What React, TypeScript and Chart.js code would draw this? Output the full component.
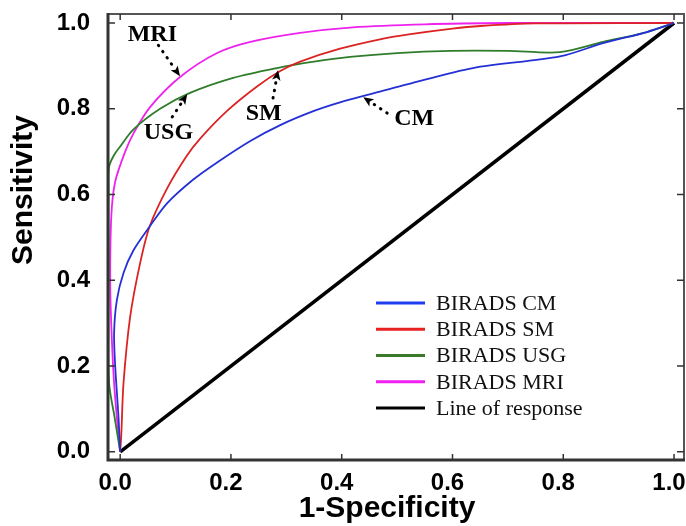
import React, { useEffect, useRef } from "react";
import { Chart, registerables } from "chart.js";

Chart.register(...registerables);

// ---------- data ----------
const seriesNames = ["BIRADS CM", "BIRADS SM", "BIRADS USG", "BIRADS MRI", "Line of response"];
const seriesColors = ["#2430d4", "#dc2323", "#2f7d2a", "#ee22ee", "#000000"];
const legendColors = ["#1e3cf0", "#e82020", "#3a7a2a", "#f020f0", "#000000"];

const cmX = [0, -0.003, -0.009, -0.011, -0.006, 0.006, 0.024, 0.053, 0.085, 0.132, 0.175, 0.235, 0.289, 0.35, 0.397, 0.469, 0.518, 0.637, 0.794, 0.872, 0.951, 1];
const cmY = [0, 0.08, 0.2, 0.277, 0.354, 0.417, 0.47, 0.525, 0.58, 0.635, 0.675, 0.725, 0.762, 0.795, 0.815, 0.84, 0.857, 0.895, 0.922, 0.953, 0.979, 1];

const smX = [0, 0.002, 0.006, 0.018, 0.036, 0.053, 0.085, 0.12, 0.144, 0.193, 0.247, 0.289, 0.325, 0.397, 0.469, 0.518, 0.6, 0.65, 0.75, 1];
const smY = [0, 0.04, 0.16, 0.315, 0.44, 0.525, 0.615, 0.69, 0.73, 0.795, 0.852, 0.888, 0.91, 0.94, 0.962, 0.973, 0.987, 0.993, 0.999, 1];

const usgX = [0, -0.01, -0.02, -0.021, -0.021, -0.021, -0.02, -0.012, 0, 0.024, 0.072, 0.126, 0.204, 0.283, 0.35, 0.415, 0.5, 0.596, 0.7, 0.794, 0.872, 0.951, 1];
const usgY = [0, 0.08, 0.16, 0.3, 0.5, 0.62, 0.665, 0.69, 0.712, 0.752, 0.8, 0.837, 0.872, 0.895, 0.91, 0.921, 0.93, 0.935, 0.935, 0.932, 0.956, 0.979, 1];

const mriX = [0, -0.006, -0.011, -0.015, -0.018, -0.016, -0.009, 0.009, 0.025, 0.054, 0.108, 0.175, 0.235, 0.325, 0.42, 0.55, 0.7, 0.85, 1];
const mriY = [0, 0.08, 0.16, 0.26, 0.39, 0.55, 0.63, 0.7, 0.745, 0.804, 0.874, 0.93, 0.956, 0.977, 0.99, 0.997, 1, 1, 1];

const refX = [0, 1];
const refY = [0, 1];

const tickValues = [0, 0.2, 0.4, 0.6, 0.8, 1.0];
const xMin = -0.022, xMax = 1.018;
const yMin = -0.019, yMax = 1.021;

const xTitle = "1-Specificity";
const yTitle = "Sensitivity";

// annotation labels (data units)
const annLabels = ["MRI", "USG", "SM", "CM"];
const annTextX = [0.058, 0.087, 0.259, 0.531];
const annTextY = [0.973, 0.745, 0.788, 0.776];
const annFromX = [0.069, 0.094, 0.276, 0.482];
const annFromY = [0.948, 0.781, 0.825, 0.79];
const annToX = [0.108, 0.121, 0.285, 0.439];
const annToY = [0.876, 0.834, 0.89, 0.827];

const zip = (xs: number[], ys: number[]) => xs.map((x, i) => ({ x, y: ys[i] }));
const seriesData = [zip(cmX, cmY), zip(smX, smY), zip(usgX, usgY), zip(mriX, mriY), zip(refX, refY)];

const SANS = "'Liberation Sans', Arial, sans-serif";
const SERIF = "'Liberation Serif', 'Times New Roman', serif";

const decorPlugin = {
  id: "decor",
  afterDraw(chart: any) {
    const { ctx, chartArea: a, scales } = chart;
    const xs = scales.x, ys = scales.y;
    ctx.save();

    // frame
    ctx.strokeStyle = "#555";
    ctx.lineWidth = 2;
    ctx.beginPath();
    ctx.moveTo(a.left, a.top);
    ctx.lineTo(a.right, a.top);
    ctx.lineTo(a.right, a.bottom);
    ctx.stroke();
    ctx.strokeStyle = "#333";
    ctx.lineWidth = 3;
    ctx.beginPath();
    ctx.moveTo(a.left, a.top - 1);
    ctx.lineTo(a.left, a.bottom);
    ctx.lineTo(a.right + 1, a.bottom);
    ctx.stroke();

    // inward ticks
    ctx.strokeStyle = "#333";
    ctx.lineWidth = 1.5;
    ctx.beginPath();
    tickValues.forEach((v) => {
      const px = xs.getPixelForValue(v);
      ctx.moveTo(px, a.bottom);
      ctx.lineTo(px, a.bottom - 6);
      ctx.moveTo(px, a.top);
      ctx.lineTo(px, a.top + 6);
      const py = ys.getPixelForValue(v);
      ctx.moveTo(a.left, py);
      ctx.lineTo(a.left + 7, py);
      ctx.moveTo(a.right, py);
      ctx.lineTo(a.right - 7, py);
    });
    ctx.stroke();

    // annotations
    ctx.fillStyle = "#000";
    ctx.font = `bold 24px ${SERIF}`;
    ctx.textAlign = "center";
    ctx.textBaseline = "middle";
    annLabels.forEach((t, i) => {
      ctx.fillText(t, xs.getPixelForValue(annTextX[i]), ys.getPixelForValue(annTextY[i]));
      const x0 = xs.getPixelForValue(annFromX[i]);
      const y0 = ys.getPixelForValue(annFromY[i]);
      const x1 = xs.getPixelForValue(annToX[i]);
      const y1 = ys.getPixelForValue(annToY[i]);
      const ang = Math.atan2(y1 - y0, x1 - x0);
      const hl = 11;
      const bx = x1 - Math.cos(ang) * hl * 0.7;
      const by = y1 - Math.sin(ang) * hl * 0.7;
      ctx.strokeStyle = "#000";
      ctx.lineWidth = 3;
      ctx.lineCap = "round";
      ctx.setLineDash([0.5, 7]);
      ctx.beginPath();
      ctx.moveTo(x0, y0);
      ctx.lineTo(bx, by);
      ctx.stroke();
      ctx.setLineDash([]);
      ctx.beginPath();
      ctx.moveTo(x1, y1);
      ctx.lineTo(x1 - Math.cos(ang - 0.4) * hl, y1 - Math.sin(ang - 0.4) * hl);
      ctx.lineTo(bx, by);
      ctx.lineTo(x1 - Math.cos(ang + 0.4) * hl, y1 - Math.sin(ang + 0.4) * hl);
      ctx.closePath();
      ctx.fill();
    });

    // legend
    ctx.font = `22px ${SERIF}`;
    ctx.textAlign = "left";
    ctx.textBaseline = "middle";
    const lx0 = a.right - 308, lx1 = a.right - 259, tx = a.right - 248;
    seriesNames.forEach((n, i) => {
      const y = a.bottom - 157 + i * 26.25;
      ctx.strokeStyle = legendColors[i];
      ctx.lineWidth = 3;
      ctx.lineCap = "butt";
      ctx.beginPath();
      ctx.moveTo(lx0, y);
      ctx.lineTo(lx1, y);
      ctx.stroke();
      ctx.fillStyle = "#111";
      ctx.fillText(n, tx, y + 1);
    });

    // axis titles
    ctx.fillStyle = "#000";
    ctx.font = `bold 30px ${SANS}`;
    ctx.textAlign = "center";
    ctx.textBaseline = "middle";
    ctx.fillText(xTitle, 387, 509);
    ctx.translate(24, 190);
    ctx.rotate(-Math.PI / 2);
    ctx.fillText(yTitle, 0, 0);
    ctx.restore();
  },
};

export default function App() {
  const ref = useRef<HTMLCanvasElement>(null);
  useEffect(() => {
    const chart = new Chart(ref.current as HTMLCanvasElement, {
      type: "scatter",
      data: {
        datasets: seriesNames.map((n, i) => ({
          label: n,
          data: seriesData[i],
          showLine: true,
          borderColor: seriesColors[i],
          backgroundColor: seriesColors[i],
          borderWidth: i === 4 ? 3.5 : 1.8,
          pointRadius: 0,
          tension: i === 4 ? 0 : 0.3,
          fill: false,
        })),
      },
      options: {
        responsive: false,
        animation: false,
        events: [],
        layout: { padding: { top: 14, right: 2, left: 0, bottom: 0 } },
        plugins: { legend: { display: false }, tooltip: { enabled: false } },
        scales: {
          x: {
            type: "linear",
            min: xMin,
            max: xMax,
            afterBuildTicks: (s: any) => {
              s.ticks = tickValues.map((v) => ({ value: v }));
            },
            afterFit: (s: any) => {
              s.height = 66;
              s.paddingLeft = 0;
              s.paddingRight = 0;
            },
            grid: { display: false, drawTicks: false },
            border: { display: false },
            ticks: {
              color: "#000",
              padding: 9,
              labelOffset: -5,
              maxRotation: 0,
              autoSkip: false,
              font: { family: SANS, size: 24, weight: "bold" },
              callback: (v: any) => Number(v).toFixed(1),
            },
          },
          y: {
            type: "linear",
            min: yMin,
            max: yMax,
            afterBuildTicks: (s: any) => {
              s.ticks = tickValues.map((v) => ({ value: v }));
            },
            afterFit: (s: any) => {
              s.width = 108;
              s.paddingTop = 0;
              s.paddingBottom = 0;
            },
            grid: { display: false, drawTicks: false },
            border: { display: false },
            ticks: {
              color: "#000",
              padding: 18,
              autoSkip: false,
              font: { family: SANS, size: 24, weight: "bold" },
              callback: (v: any) => Number(v).toFixed(1),
            },
          },
        },
      },
      plugins: [decorPlugin],
    } as any);
    return () => chart.destroy();
  }, []);
  return (
    <div style={{ position: "absolute", left: 0, top: 0, width: 686, height: 526, background: "#fff" }}>
      <canvas ref={ref} width={686} height={526} style={{ display: "block" }} />
    </div>
  );
}
